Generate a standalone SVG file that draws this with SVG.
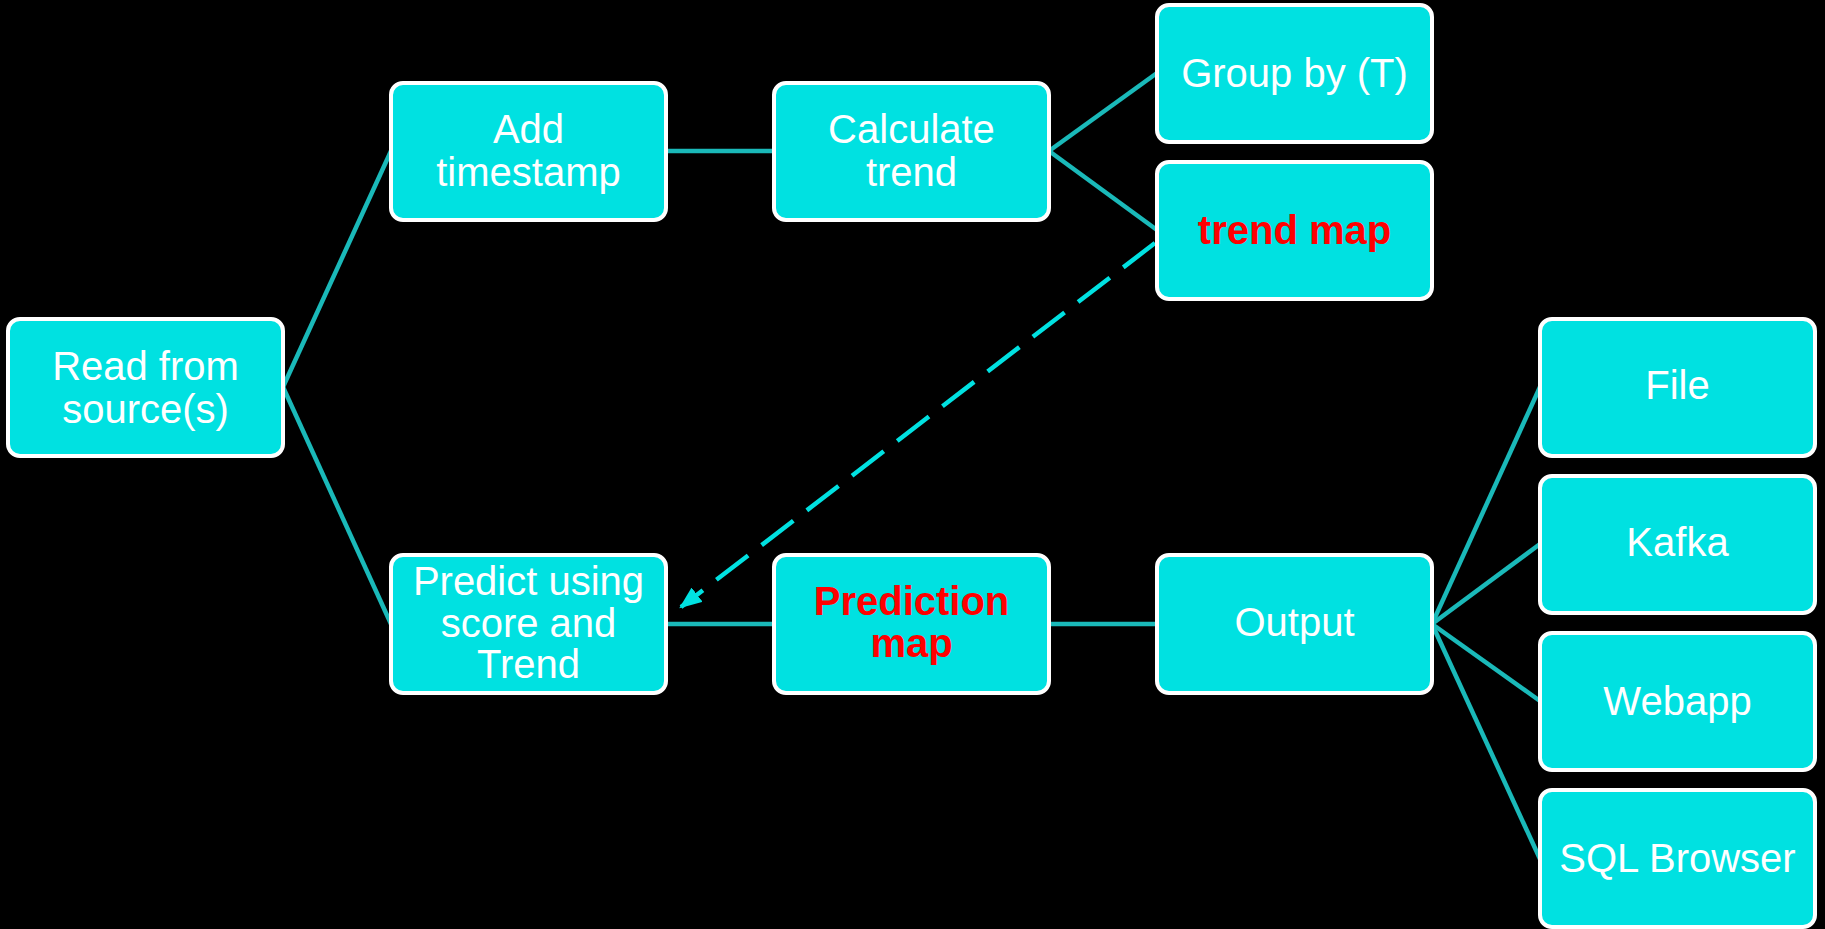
<svg xmlns="http://www.w3.org/2000/svg" width="1825" height="929" viewBox="0 0 1825 929">
<style>
.box{fill:#00e1e1;stroke:#ffffff;stroke-width:4}
.t{font-family:"Liberation Sans",Arial,sans-serif;font-size:40px;fill:#ffffff;text-anchor:middle}
.r{font-family:"Liberation Sans",Arial,sans-serif;font-size:40px;font-weight:bold;fill:#ff0000;text-anchor:middle}
.c{stroke:#1ab9b9;stroke-width:4.5;fill:none}
.d{stroke:#00e1e1;stroke-width:4.5;fill:none;stroke-dasharray:40 17}
</style>
<defs>
<marker id="ah" viewBox="0 0 10 8" refX="9" refY="4" markerWidth="5" markerHeight="4" orient="auto" markerUnits="strokeWidth">
<path d="M0,0 L10,4 L0,8 z" fill="#00e1e1"/>
</marker>
</defs>
<rect width="1825" height="929" fill="#000000"/>
<g id="connectors">
<line class="c" x1="283" y1="387" x2="391" y2="151"/>
<line class="c" x1="283" y1="387" x2="391" y2="624"/>
<line class="c" x1="666" y1="151" x2="774" y2="151"/>
<line class="c" x1="1049" y1="151" x2="1157" y2="73"/>
<line class="c" x1="1049" y1="151" x2="1157" y2="230"/>
<line class="c" x1="666" y1="624" x2="774" y2="624"/>
<line class="c" x1="1049" y1="624" x2="1157" y2="624"/>
<line class="c" x1="1432" y1="624" x2="1540" y2="387"/>
<line class="c" x1="1432" y1="624" x2="1540" y2="544"/>
<line class="c" x1="1432" y1="624" x2="1540" y2="701"/>
<line class="c" x1="1432" y1="624" x2="1540" y2="859"/>
<line class="d" x1="1155" y1="243" x2="681" y2="607" marker-end="url(#ah)"/>
</g>
<g id="read">
<rect class="box" x="8" y="319" width="275" height="137" rx="12"/>
<text class="t" x="145.5" y="380">Read from</text>
<text class="t" x="145.5" y="423">source(s)</text>
</g>
<g id="add">
<rect class="box" x="391" y="83" width="275" height="137" rx="12"/>
<text class="t" x="528.5" y="143">Add</text>
<text class="t" x="528.5" y="186">timestamp</text>
</g>
<g id="calc">
<rect class="box" x="774" y="83" width="275" height="137" rx="12"/>
<text class="t" x="911.5" y="143">Calculate</text>
<text class="t" x="911.5" y="186">trend</text>
</g>
<g id="group">
<rect class="box" x="1157" y="5" width="275" height="137" rx="12"/>
<text class="t" x="1294.5" y="87">Group by (T)</text>
</g>
<g id="trendmap">
<rect class="box" x="1157" y="162" width="275" height="137" rx="12"/>
<text class="r" x="1294.5" y="244">trend map</text>
</g>
<g id="predict">
<rect class="box" x="391" y="555" width="275" height="138" rx="12"/>
<text class="t" x="528.5" y="595">Predict using</text>
<text class="t" x="528.5" y="637">score and</text>
<text class="t" x="528.5" y="678">Trend</text>
</g>
<g id="prediction">
<rect class="box" x="774" y="555" width="275" height="138" rx="12"/>
<text class="r" x="911.5" y="615">Prediction</text>
<text class="r" x="911.5" y="657">map</text>
</g>
<g id="output">
<rect class="box" x="1157" y="555" width="275" height="138" rx="12"/>
<text class="t" x="1294.5" y="636">Output</text>
</g>
<g id="file">
<rect class="box" x="1540" y="319" width="275" height="137" rx="12"/>
<text class="t" x="1677.5" y="399">File</text>
</g>
<g id="kafka">
<rect class="box" x="1540" y="476" width="275" height="137" rx="12"/>
<text class="t" x="1677.5" y="556">Kafka</text>
</g>
<g id="webapp">
<rect class="box" x="1540" y="633" width="275" height="137" rx="12"/>
<text class="t" x="1677.5" y="715">Webapp</text>
</g>
<g id="sql">
<rect class="box" x="1540" y="790" width="275" height="137" rx="12"/>
<text class="t" x="1677.5" y="872">SQL Browser</text>
</g>
</svg>
